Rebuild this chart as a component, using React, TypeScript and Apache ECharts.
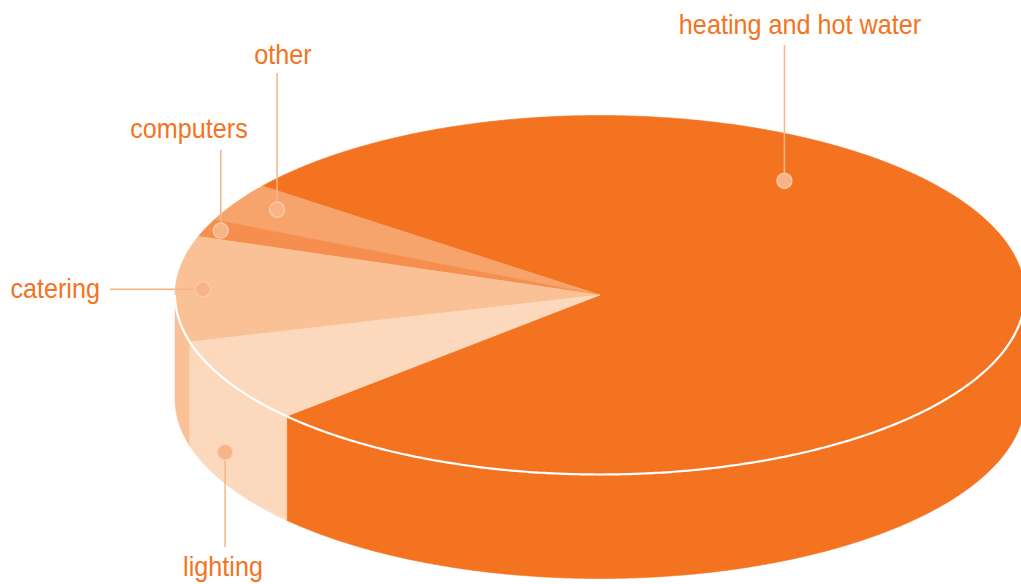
import React, { useEffect, useRef } from 'react';
import * as echarts from 'echarts';

// ---- data ----
const categories = ['heating and hot water', 'other', 'computers', 'catering', 'lighting'];
const values = [77.8, 3.5, 1.6, 9.5, 7.6];
const colors = ['#F37321', '#F7A46C', '#F58E4E', '#FAC196', '#FCD8BC'];

// ---- layout (not data) ----
const START_ANGLE = 222.5; // degrees, counter-clockwise
const CX = 600, CY = 295, RX = 425, RY = 179.5, DEPTH = 104;
const FONT = '28px "Liberation Sans", Arial, sans-serif';
const TEXT_SCALE_X = 0.9;
const labelLayout: any[] = [
  { dotAngle: 55.7, dotR: 0.77, lineToY: 45, tx: 800, ty: 24.3, align: 'center' },
  { dotAngle: 148, dotR: 0.896, lineToY: 73, tx: 283, ty: 54.3, align: 'center' },
  { dotR: 0.962, lineToY: 150, tx: 189, ty: 128.3, align: 'center' },
  { dotR: 0.935, lineToX: 110, tx: 100, ty: 288.3, align: 'right' },
  { dotAngle: 208.1, side: 0.7, lineToY: 547, tx: 223, ty: 566.3, align: 'center' },
];

function pt(theta: number, r: number, dy: number): number[] {
  const a = (theta * Math.PI) / 180;
  return [CX + RX * r * Math.cos(a), CY - RY * r * Math.sin(a) + dy];
}

function arc(a0: number, a1: number, r: number, dy: number): number[][] {
  const n = Math.max(2, Math.ceil(Math.abs(a1 - a0) / 0.5));
  const out: number[][] = [];
  for (let i = 0; i <= n; i++) out.push(pt(a0 + ((a1 - a0) * i) / n, r, dy));
  return out;
}

export default function App() {
  const ref = useRef<HTMLDivElement>(null);
  useEffect(() => {
    document.body.style.margin = '0';
    const chart = echarts.init(ref.current!, null, { renderer: 'svg' });
    const total = values.reduce((s, v) => s + v, 0);
    const starts: number[] = [];
    let acc = START_ANGLE;
    values.forEach((v) => {
      starts.push(acc);
      acc += (360 * v) / total;
    });

    const renderItem = (params: any) => {
      const i = params.dataIndex;
      const a0 = starts[i];
      const a1 = a0 + (360 * values[i]) / total;
      const color = colors[i];
      const children: any[] = [];
      // side walls (front half only)
      for (let k = -1; k <= 2; k++) {
        const lo = Math.max(a0, 180 + 360 * k);
        const hi = Math.min(a1, 360 + 360 * k);
        if (hi > lo) {
          const top = arc(lo, hi, 1, 0);
          const bottom = arc(hi, lo, 1, DEPTH);
          children.push({
            type: 'polygon',
            shape: { points: top.concat(bottom) },
            style: { fill: color, stroke: color, lineWidth: 0.6 },
            z2: 1,
          });
        }
      }
      // top face
      children.push({
        type: 'polygon',
        shape: { points: [[CX, CY]].concat(arc(a0, a1, 1, 0)) },
        style: { fill: color, stroke: color, lineWidth: 0.6 },
        z2: 2,
      });
      if (i === 0) {
        children.push({
          type: 'polyline',
          shape: { points: arc(180, 360, 1, 0) },
          style: { stroke: '#FFFFFF', lineWidth: 2.2, fill: 'none' },
          z2: 50,
        });
      }
      // label
      const L = labelLayout[i];
      const mid = L.dotAngle !== undefined ? L.dotAngle : (a0 + a1) / 2;
      const dot = L.side !== undefined ? pt(mid, 1, DEPTH * L.side) : pt(mid, L.dotR, 0);
      const end = L.lineToX !== undefined ? [L.lineToX, dot[1]] : [dot[0], L.lineToY];
      children.push({
        type: 'line',
        shape: { x1: dot[0], y1: dot[1], x2: end[0], y2: end[1] },
        style: { stroke: '#F8B386', lineWidth: 1.5 },
        z2: 100,
      });
      children.push({
        type: 'circle',
        shape: { cx: dot[0], cy: dot[1], r: 7.5 },
        style: { fill: '#F8B386', stroke: '#FBCDAA', lineWidth: 1.2 },
        z2: 101,
      });
      children.push({
        type: 'text',
        x: L.tx,
        y: L.ty,
        scaleX: TEXT_SCALE_X,
        style: {
          text: categories[i],
          fill: '#F37321',
          font: FONT,
          align: L.align,
          verticalAlign: 'middle',
        },
        z2: 102,
      });
      return { type: 'group', children };
    };

    chart.setOption({
      animation: false,
      backgroundColor: '#FFFFFF',
      series: [
        {
          type: 'custom',
          coordinateSystem: 'none',
          silent: true,
          renderItem,
          data: values.map((v, i) => ({ name: categories[i], value: v })),
        },
      ],
    });
    return () => chart.dispose();
  }, []);
  return <div ref={ref} style={{ width: 1021, height: 584 }} />;
}
